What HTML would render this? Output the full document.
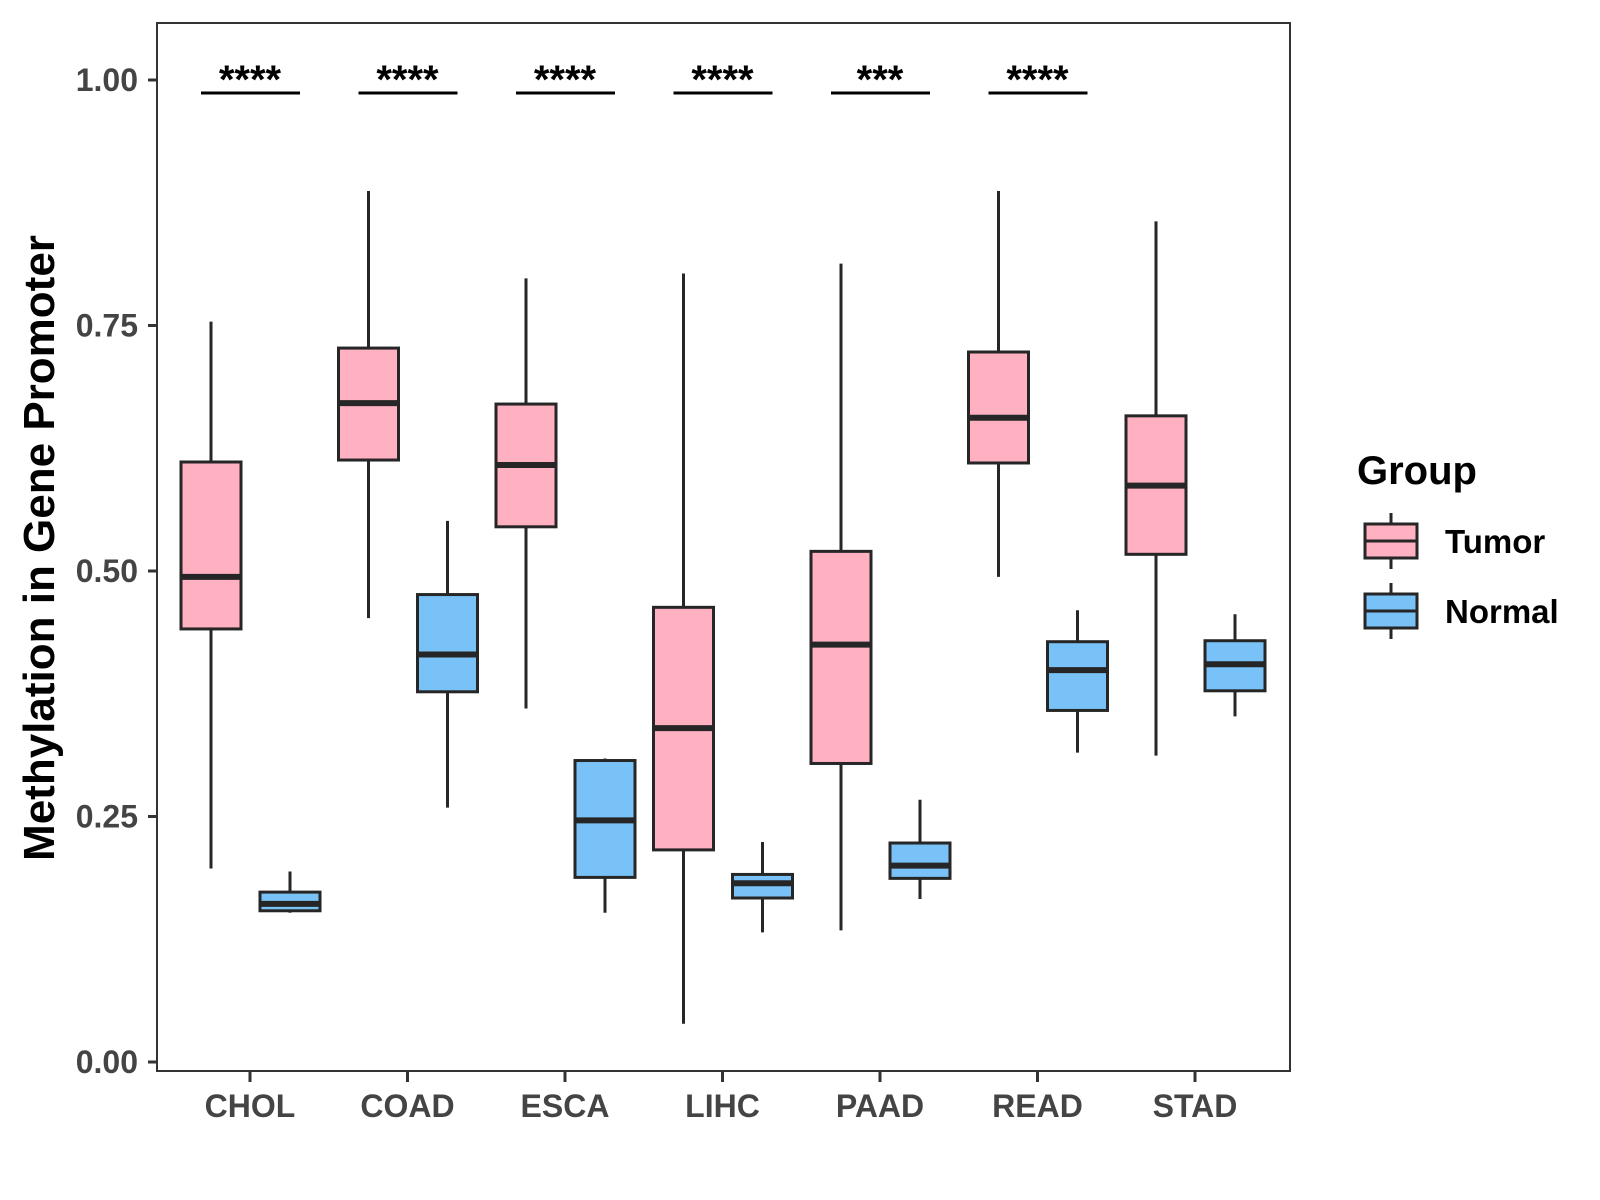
<!DOCTYPE html>
<html><head><meta charset="utf-8"><style>body{margin:0;background:#fff}svg{display:block;font-family:"Liberation Sans",Arial,sans-serif}</style></head>
<body>
<svg id="chart" width="1600" height="1200" viewBox="0 0 1600 1200" xmlns="http://www.w3.org/2000/svg"></svg>
<script>
const categories = ["CHOL","COAD","ESCA","LIHC","PAAD","READ","STAD"];
// [low, q1, median, q3, high]
const tumorStats = [
  [0.197,0.441,0.494,0.611,0.754],
  [0.452,0.613,0.671,0.727,0.887],
  [0.360,0.545,0.608,0.670,0.798],
  [0.039,0.216,0.340,0.463,0.803],
  [0.134,0.304,0.425,0.520,0.813],
  [0.494,0.610,0.656,0.723,0.887],
  [0.312,0.517,0.587,0.658,0.856]
];
const normalStats = [
  [0.152,0.154,0.161,0.173,0.194],
  [0.259,0.377,0.415,0.476,0.551],
  [0.152,0.188,0.246,0.307,0.309],
  [0.132,0.167,0.182,0.191,0.224],
  [0.166,0.187,0.200,0.223,0.267],
  [0.315,0.358,0.399,0.428,0.460],
  [0.352,0.378,0.405,0.429,0.456]
];
const significance = ["****","****","****","****","***","****",""];
const yTicks = [0,0.25,0.5,0.75,1.0];
const yTickLabels = ["0.00","0.25","0.50","0.75","1.00"];

const svg = document.getElementById('chart');
const NS = "http://www.w3.org/2000/svg";
function mk(tag, attrs, parent){const e=document.createElementNS(NS,tag);for(const k in attrs)e.setAttribute(k,attrs[k]);(parent||svg).appendChild(e);return e;}
const y = v => 1062 - v*982;
const x = i => 250 + i*157.5;
const LINE="#262626";

const panel = mk('rect',{x:157,y:23,width:1133,height:1048,fill:'#fff',stroke:'#333','stroke-width':2});



yTicks.forEach((t,i)=>{
  const tk=mk('line',{x1:148,x2:157,y1:y(t),y2:y(t),stroke:'#333','stroke-width':3});
  
  
  const tl=mk('text',{x:138,y:y(t)+11,'text-anchor':'end','font-size':32,'font-weight':'bold',fill:'#444'});
  tl.textContent=yTickLabels[i];
  
  
});

categories.forEach((c,i)=>{
  const tk=mk('line',{x1:x(i),x2:x(i),y1:1071,y2:1082,stroke:'#333','stroke-width':3});
  
  
  const tl=mk('text',{x:x(i),y:1117,'text-anchor':'middle','font-size':32,'font-weight':'bold',fill:'#444'});
  tl.textContent=c;
  
  
});

function box(cx, s, fill, name){
  const g=mk('g',{});
  
  
  mk('line',{x1:cx,x2:cx,y1:y(s[0]),y2:y(s[4]),stroke:LINE,'stroke-width':3},g);
  mk('rect',{x:cx-30,y:y(s[3]),width:60,height:y(s[1])-y(s[3]),fill:fill,stroke:LINE,'stroke-width':3},g);
  mk('line',{x1:cx-30,x2:cx+30,y1:y(s[2]),y2:y(s[2]),stroke:LINE,'stroke-width':6},g);
}
categories.forEach((c,i)=>{
  box(x(i)-39, tumorStats[i], '#FFB0C1', 'tumor-box-'+c.toLowerCase());
  box(x(i)+40, normalStats[i], '#79C2F7', 'normal-box-'+c.toLowerCase());
  if(significance[i]){
    const b=mk('line',{x1:x(i)-49,x2:x(i)+50,y1:93,y2:93,stroke:'#000','stroke-width':3});
    
    
    const t=mk('text',{x:x(i),y:93,'text-anchor':'middle','font-size':40,'font-weight':'bold',fill:'#000'});
    t.textContent=significance[i];
    
    
  }
});

const yt=mk('text',{x:0,y:0,transform:'translate(54,548) rotate(-90)','text-anchor':'middle','font-size':44,'font-weight':'bold',fill:'#000'});
yt.textContent='Methylation in Gene Promoter';



const lt=mk('text',{x:1357,y:484,'font-size':40,'font-weight':'bold',fill:'#000'});
lt.textContent='Group';



[['Tumor','#FFB0C1',541],['Normal','#79C2F7',611]].forEach(([lab,col,cy])=>{
  const g=mk('g',{});
  
  
  mk('line',{x1:1391,x2:1391,y1:cy-28,y2:cy+28,stroke:LINE,'stroke-width':3},g);
  mk('rect',{x:1365,y:cy-17,width:52,height:34,fill:col,stroke:LINE,'stroke-width':3},g);
  mk('line',{x1:1365,x2:1417,y1:cy,y2:cy,stroke:LINE,'stroke-width':3},g);
  const t=mk('text',{x:1445,y:cy+12,'font-size':33,'font-weight':'bold',fill:'#000'},g);
  t.textContent=lab;
});
</script>
</body></html>
